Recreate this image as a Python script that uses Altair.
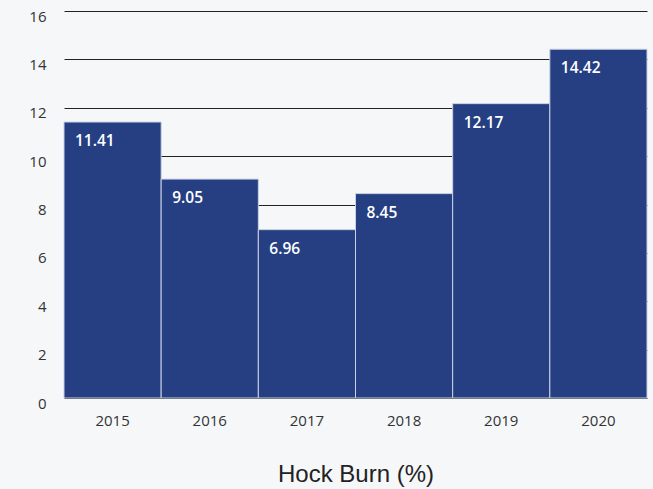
import altair as alt
import pandas as pd

years = ["2015", "2016", "2017", "2018", "2019", "2020"]
hock_burn = [11.41, 9.05, 6.96, 8.45, 12.17, 14.42]
y_ticks = [0, 2, 4, 6, 8, 10, 12, 14, 16]

df = pd.DataFrame({"year": years, "value": hock_burn})
df["label"] = df["value"].map(lambda v: f"{v:.2f}")

TICK_FONT = "Open Sans"
TITLE_FONT = "Liberation Sans"

x_enc = alt.X(
    "year:N",
    sort=years,
    scale=alt.Scale(paddingInner=0.0, paddingOuter=0.0),
    axis=alt.Axis(
        title="Hock Burn (%)",
        titleFont=TITLE_FONT,
        titleFontSize=24,
        titleFontWeight="normal",
        titleColor="#222222",
        titlePadding=34,
        labelFont=TICK_FONT,
        labelFontSize=15,
        labelColor="#333333",
        labelPadding=15,
        labelAngle=0,
        domain=False,
        ticks=False,
        grid=False,
    ),
)

y_enc = alt.Y(
    "value:Q",
    scale=alt.Scale(domain=[0, 16], nice=False),
    axis=alt.Axis(
        title=None,
        values=y_ticks,
        labelFont=TICK_FONT,
        labelFontSize=15,
        labelColor="#333333",
        labelPadding=18,
        labelOffset=5,
        domain=False,
        ticks=False,
        grid=True,
        gridColor="#222222",
        gridWidth=1,
    ),
)

bars = alt.Chart(df).mark_bar(
    color="#253f82", stroke="#c9d1e3", strokeWidth=1
).encode(x=x_enc, y=y_enc)

labels = alt.Chart(df).mark_text(
    align="left",
    baseline="top",
    dx=11,
    dy=12,
    font=TICK_FONT,
    fontSize=15.5,
    fontWeight=600,
    color="white",
).encode(
    x=alt.X("year:N", sort=years, bandPosition=0),
    y="value:Q",
    text="label:N",
)

chart = (
    alt.layer(bars, labels)
    .properties(
        width=583,
        height=387,
        background="#f6f7f9",
        padding={"left": 64, "top": 11, "right": 6, "bottom": 91},
        autosize=alt.AutoSizeParams(type="none"),
    )
    .configure_view(stroke=None)
)

chart.save("out.html", embed_options={"renderer": "svg", "actions": False})
